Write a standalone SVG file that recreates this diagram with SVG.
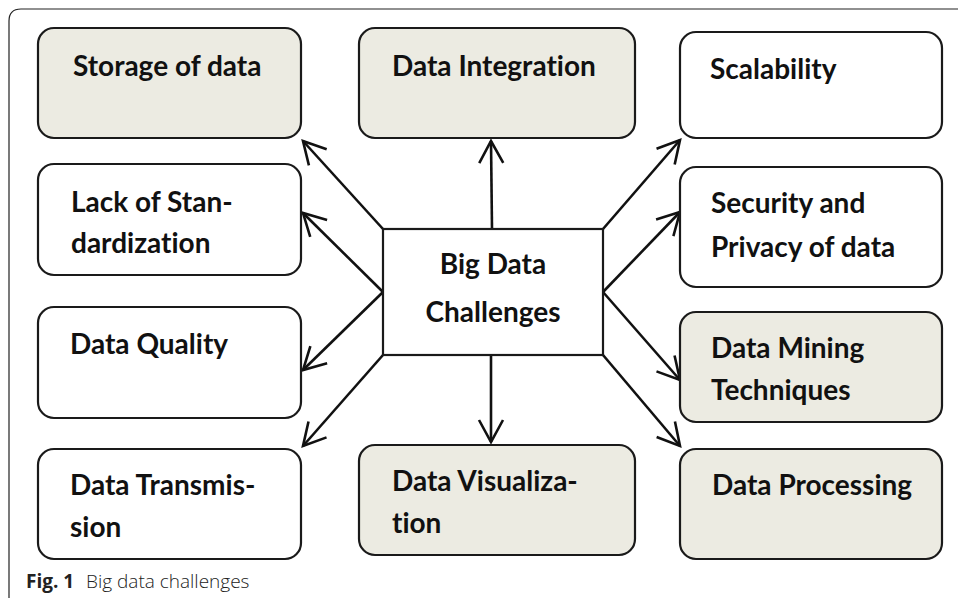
<svg xmlns="http://www.w3.org/2000/svg" width="958" height="598" viewBox="0 0 958 598">
<style>
.box{stroke:#1a1a1a;stroke-width:2.2}
.tan{fill:#ecebe2}
.wht{fill:#ffffff}
.t{font-family:Lato,"Open Sans",sans-serif;font-weight:bold;font-size:28px;fill:#111;font-variant-ligatures:none}
.c{stroke:#111;stroke-width:2.6;fill:none;marker-end:url(#ah)}
</style>
<defs>
<marker id="ah" markerUnits="userSpaceOnUse" markerWidth="40" markerHeight="40" viewBox="-30 -20 40 40" refX="0" refY="0" orient="auto">
<path d="M-22,-12 L0,0 L-22,12" fill="none" stroke="#111" stroke-width="2.6" stroke-linejoin="miter"/>
</marker>
</defs>
<rect width="958" height="598" fill="#fff"/>
<path d="M9,598 L9,21 Q9,9 21,9 L958,9" fill="none" stroke="#222" stroke-width="1.2"/>
<g id="connectors">
<line class="c" x1="492" y1="229" x2="491" y2="141"/>
<line class="c" x1="383" y1="229" x2="303" y2="141"/>
<line class="c" x1="383" y1="292" x2="303" y2="213"/>
<line class="c" x1="383" y1="292" x2="303" y2="370"/>
<line class="c" x1="383" y1="355" x2="303" y2="446"/>
<line class="c" x1="491" y1="355" x2="491" y2="442"/>
<line class="c" x1="603" y1="229" x2="680" y2="140"/>
<line class="c" x1="603" y1="292" x2="680" y2="212"/>
<line class="c" x1="603" y1="292" x2="680" y2="380"/>
<line class="c" x1="603" y1="355" x2="680" y2="446"/>
</g>
<g id="storage"><rect class="box tan" x="38" y="28" width="263" height="110" rx="16"/><text class="t" x="73" y="76">Storage of data</text></g>
<g id="lack"><rect class="box wht" x="38" y="164" width="263" height="111" rx="16"/><text class="t" x="71" y="212">Lack of Stan-</text><text class="t" x="71" y="253">dardization</text></g>
<g id="quality"><rect class="box wht" x="38" y="307" width="263" height="111" rx="16"/><text class="t" x="70" y="354">Data Quality</text></g>
<g id="transmission"><rect class="box wht" x="38" y="449" width="263" height="110" rx="16"/><text class="t" x="70" y="495">Data Transmis-</text><text class="t" x="70" y="537">sion</text></g>
<g id="integration"><rect class="box tan" x="359" y="28" width="276" height="110" rx="16"/><text class="t" x="392" y="76">Data Integration</text></g>
<g id="visualization"><rect class="box tan" x="359" y="445" width="276" height="110" rx="16"/><text class="t" x="392" y="491">Data Visualiza-</text><text class="t" x="392" y="533">tion</text></g>
<g id="center"><rect x="383" y="229" width="220" height="126" fill="#fff" stroke="#1a1a1a" stroke-width="2.2"/><text class="t" x="493" y="274" text-anchor="middle" font-size="33">Big Data</text><text class="t" x="493" y="322" text-anchor="middle" font-size="33">Challenges</text></g>
<g id="scalability"><rect class="box wht" x="680" y="32" width="262" height="106" rx="16"/><text class="t" x="710" y="79">Scalability</text></g>
<g id="security"><rect class="box wht" x="680" y="167" width="262" height="120" rx="16"/><text class="t" x="711" y="213">Security and</text><text class="t" x="711" y="257">Privacy of data</text></g>
<g id="mining"><rect class="box tan" x="680" y="312" width="262" height="110" rx="16"/><text class="t" x="711" y="358">Data Mining</text><text class="t" x="711" y="400">Techniques</text></g>
<g id="processing"><rect class="box tan" x="680" y="449" width="262" height="110" rx="16"/><text class="t" x="712" y="495">Data Processing</text></g>
<g id="caption"><text x="26" y="588" font-family="'Open Sans',sans-serif" font-size="19" fill="#222"><tspan font-weight="bold">Fig. 1</tspan><tspan x="86" font-weight="300">Big data challenges</tspan></text></g>
</svg>
